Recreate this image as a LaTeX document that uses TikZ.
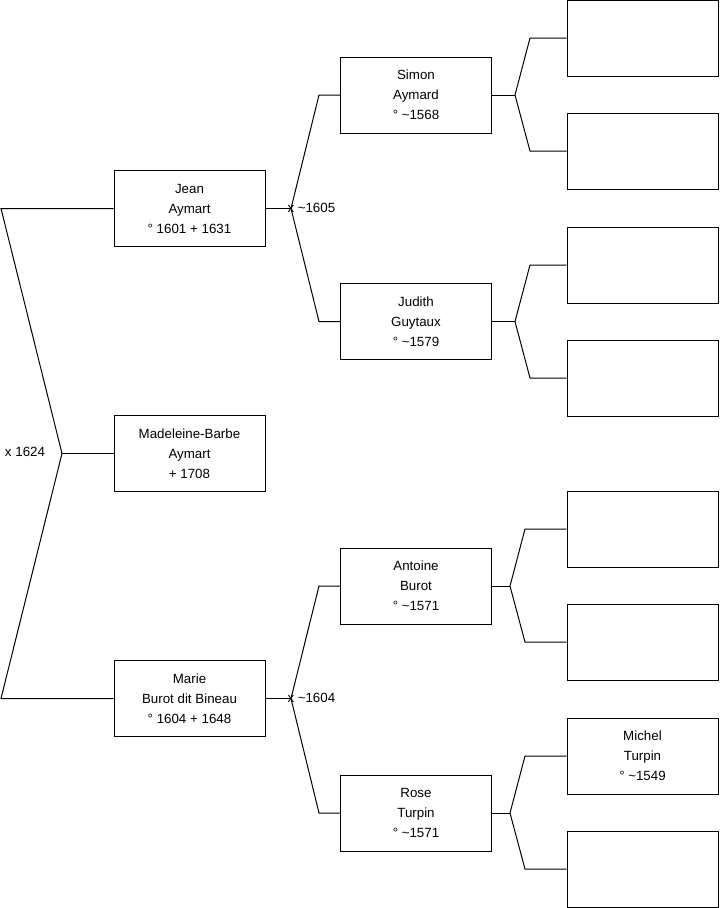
\documentclass[tikz,border=0pt]{standalone}
\usepackage{fontspec}
\setmainfont{Liberation Sans}
\begin{document}
\begin{tikzpicture}[x=0.75pt,y=-0.75pt,
  box/.style={draw, line width=0.75pt, minimum width=113.25pt, minimum height=57pt, inner sep=0pt, align=center, font=\fontsize{10}{15}\selectfont},
  lbl/.style={inner sep=0pt, font=\fontsize{10}{15}\selectfont},
  conn/.style={line width=0.75pt}]
\useasboundingbox (0,0) rectangle (719,908);
% column 1
\node[box] (jean) at (189.5,208.5) {Jean\\Aymart\\° 1601 + 1631};
\node[box] (mad) at (189.5,453.5) {Madeleine-Barbe\\Aymart\\+ 1708};
\node[box] (marie) at (189.5,698.5) {Marie\\Burot dit Bineau\\° 1604 + 1648};
% column 2
\node[box] (simon) at (416,95) {Simon\\Aymard\\° \textasciitilde1568};
\node[box] (judith) at (416,321.5) {Judith\\Guytaux\\° \textasciitilde1579};
\node[box] (antoine) at (416,586) {Antoine\\Burot\\° \textasciitilde1571};
\node[box] (rose) at (416,813) {Rose\\Turpin\\° \textasciitilde1571};
% column 3
\node[box] (s1) at (642.5,38) {};
\node[box] (s2) at (642.5,151) {};
\node[box] (j1b) at (642.5,265) {};
\node[box] (j2b) at (642.5,378) {};
\node[box] (a1) at (642.5,529) {};
\node[box] (a2) at (642.5,642) {};
\node[box] (r1) at (642.5,756) {Michel\\Turpin\\° \textasciitilde1549};
\node[box] (r2) at (642.5,869) {};
% junctions
\coordinate (k0) at (62,453.5);
\coordinate (k1) at (291,208.5);
\coordinate (k2) at (291,698.5);
\coordinate (k3) at (515,95);
\coordinate (k4) at (515,321.5);
\coordinate (k5) at (510,586);
\coordinate (k6) at (510,813);
% left level
\draw[conn] (jean.west) -- (1,208.5) -- (k0) -- (1,698.5) -- (marie.west);
\draw[conn] (k0) -- (mad.west);
\node[lbl] (m0) at (25,451.5) {x 1624};
% second level
\draw[conn] (jean.east) -- (k1);
\draw[conn] (simon.west) -- (319,95) -- (k1) -- (319,321.5) -- (judith.west);
\node[lbl] (x1) at (k1) {x};
\node[lbl, anchor=west] (m1) at (297.5,207.5) {\textasciitilde1605};
\draw[conn] (marie.east) -- (k2);
\draw[conn] (antoine.west) -- (319,586) -- (k2) -- (319,813) -- (rose.west);
\node[lbl] (x2) at (k2) {x};
\node[lbl, anchor=west] (m2) at (297.5,697.5) {\textasciitilde1604};
% third level
\draw[conn] (simon.east) -- (k3);
\draw[conn] (s1.west) -- (530,38) -- (k3) -- (530,151) -- (s2.west);
\draw[conn] (judith.east) -- (k4);
\draw[conn] (j1b.west) -- (530,265) -- (k4) -- (530,378) -- (j2b.west);
\draw[conn] (antoine.east) -- (k5);
\draw[conn] (a1.west) -- (525,529) -- (k5) -- (525,642) -- (a2.west);
\draw[conn] (rose.east) -- (k6);
\draw[conn] (r1.west) -- (525,756) -- (k6) -- (525,869) -- (r2.west);
\end{tikzpicture}
\end{document}
